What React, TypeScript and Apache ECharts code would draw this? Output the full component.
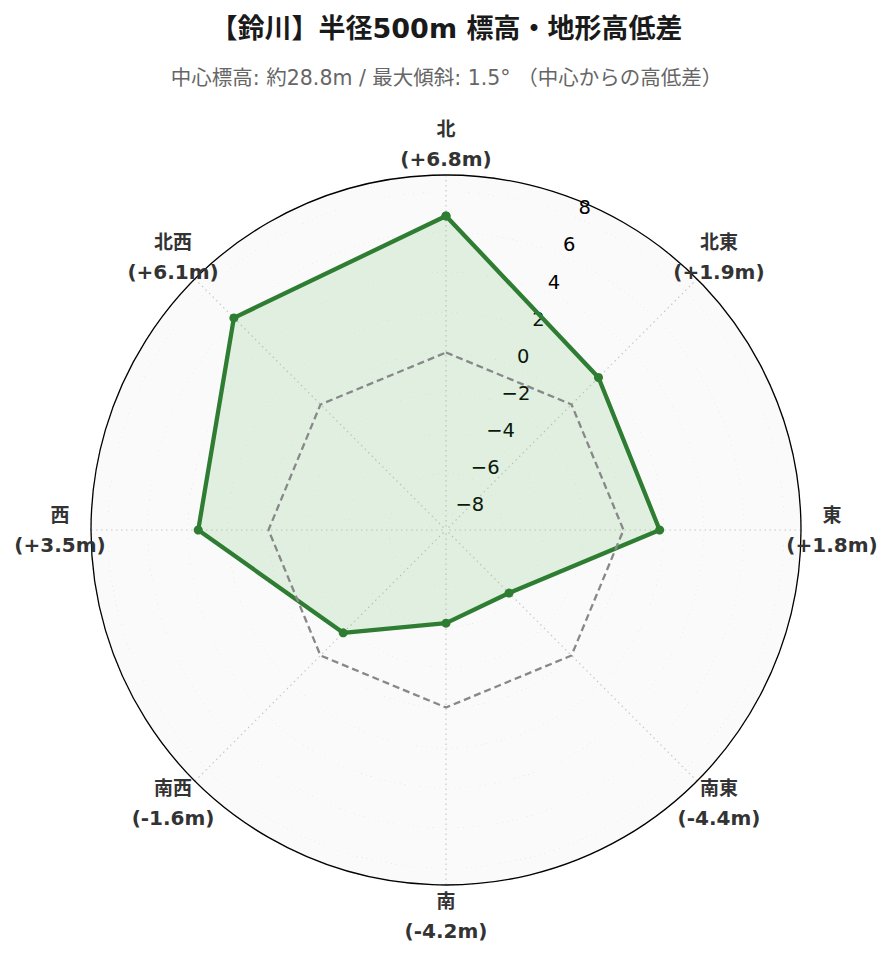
import React, { useEffect, useRef } from "react";
import * as echarts from "echarts";

const directions = ["北", "北東", "東", "南東", "南", "南西", "西", "北西"];
const angles = [0, 45, 90, 135, 180, 225, 270, 315];
const diffs = [6.8, 1.9, 1.8, -4.4, -4.2, -1.6, 3.5, 6.1];
const radiusTicks = [-8, -6, -4, -2, 0, 2, 4, 6, 8];
const rMin = -8.84;
const rMax = 8.84;
const titleText = "【鈴川】半径500m 標高・地形高低差";
const subText = "中心標高: 約28.8m / 最大傾斜: 1.5° （中心からの高低差）";

const LATIN = "'DejaVu Sans', 'Noto Sans CJK JP', sans-serif";

function fmtDiff(v: number) {
  return (v >= 0 ? "+" : "-") + Math.abs(v).toFixed(1) + "m";
}

export default function App() {
  const ref = useRef<HTMLDivElement>(null);
  useEffect(() => {
    if (!ref.current) return;
    const chart = echarts.init(ref.current, undefined, { renderer: "svg" });
    const center = [446, 530];
    const radius = 355;
    // label ring sits a little outside the plot circle
    const labelR = rMax + (rMax - rMin) * (31 / 355);
    const mainData = angles.map((a, i) => [diffs[i], a]);
    mainData.push([diffs[0], 360]);
    const zeroData = angles.map((a) => [0, a]);
    zeroData.push([0, 360]);
    const labelData = angles.map((a, i) => ({
      value: [labelR, a],
      label: { formatter: `{a|${directions[i]}}\n{b|(${fmtDiff(diffs[i])})}` },
    }));
    const dotted = { color: "#c8c8c8", type: [1.5, 3.5], width: 1.2 };
    chart.setOption({
      animation: false,
      title: [
        {
          text: titleText,
          left: "center",
          top: 10,
          textStyle: { fontSize: 27, fontWeight: "bold", color: "#1a1a1a", fontFamily: LATIN },
        },
        {
          text: subText,
          left: "center",
          top: 63,
          textStyle: { fontSize: 20.5, fontWeight: "normal", color: "#666", fontFamily: LATIN },
        },
      ],
      polar: [
        { center, radius },
        { center, radius },
      ],
      angleAxis: [
        {
          polarIndex: 0,
          type: "value",
          min: 0,
          max: 360,
          interval: 45,
          startAngle: 90,
          clockwise: true,
          axisLine: { show: true, lineStyle: { color: "#000", width: 1.3 } },
          axisTick: { show: false },
          splitLine: { show: true, lineStyle: dotted },
          axisLabel: { show: false },
        },
        {
          polarIndex: 1,
          type: "value",
          min: 0,
          max: 360,
          startAngle: 67.5,
          show: false,
        },
      ],
      radiusAxis: [
        {
          polarIndex: 0,
          type: "value",
          min: rMin,
          max: rMax,
          splitNumber: 9,
          axisLine: { show: false },
          axisTick: { show: false },
          axisLabel: { show: false },
          splitLine: { show: true, lineStyle: dotted },
          splitArea: { show: true, areaStyle: { color: ["#fafafa", "#fafafa"] } },
        },
        {
          polarIndex: 1,
          type: "value",
          min: rMin,
          max: rMax,
          splitNumber: 9,
          axisLine: { show: false },
          axisTick: { show: false },
          splitLine: { show: false },
          axisLabel: {
            show: true,
            margin: 0,
            align: "left",
            verticalAlign: "bottom",
            padding: [0, 0, 0, 3],
            fontSize: 19.5,
            color: "#000",
            fontFamily: LATIN,
            formatter: (v: number) =>
              radiusTicks.includes(v) ? (v < 0 ? "\u2212" + Math.abs(v) : String(v)) : "",
          },
        },
      ],
      series: [
        {
          type: "line",
          coordinateSystem: "polar",
          polarIndex: 0,
          data: mainData,
          symbol: "circle",
          symbolSize: 9,
          showSymbol: true,
          lineStyle: { color: "#2e7d32", width: 4.3 },
          itemStyle: { color: "#2e7d32" },
          areaStyle: { origin: "start", color: "rgba(76,175,80,0.2)" },
          z: 3,
        },
        {
          type: "line",
          coordinateSystem: "polar",
          polarIndex: 0,
          data: zeroData,
          showSymbol: false,
          symbol: "none",
          lineStyle: { color: "#888", width: 2.3, type: [7, 4] },
          z: 4,
        },
        {
          type: "scatter",
          coordinateSystem: "polar",
          polarIndex: 0,
          clip: false,
          silent: true,
          symbolSize: 1,
          itemStyle: { color: "rgba(0,0,0,0)", opacity: 1 },
          data: labelData,
          label: {
            show: true,
            position: "inside",
            align: "center",
            verticalAlign: "middle",
            color: "#333",
            opacity: 1,
            rich: {
              a: { fontSize: 19, fontWeight: "bold", color: "#333", lineHeight: 30, fontFamily: LATIN, align: "center" },
              b: { fontSize: 20, fontWeight: "bold", color: "#333", lineHeight: 30, fontFamily: LATIN, align: "center" },
            },
          },
          z: 5,
        },
      ],
    });
    return () => chart.dispose();
  }, []);
  return (
    <div
      ref={ref}
      style={{ position: "absolute", left: 0, top: 0, width: 893, height: 962 }}
    />
  );
}
